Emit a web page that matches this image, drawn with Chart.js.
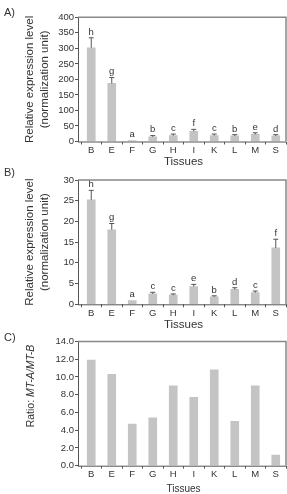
<!DOCTYPE html>
<html>
<head>
<meta charset="utf-8">
<script src="https://cdn.jsdelivr.net/npm/chart.js@4.4.1/dist/chart.umd.min.js"></script>
<style>
html, body { margin: 0; padding: 0; background: #fff; width: 287px; height: 494px; overflow: hidden; }
.panel { position: absolute; left: 0; width: 287px; }
</style>
</head>
<body>
<div class="panel" style="top:0;height:170px"><canvas id="chartA" width="287" height="170"></canvas></div>
<div class="panel" style="top:166px;height:166px"><canvas id="chartB" width="287" height="166"></canvas></div>
<div class="panel" style="top:332px;height:166px"><canvas id="chartC" width="287" height="166"></canvas></div>
<script>
// data
const tissues = ['B', 'E', 'F', 'G', 'H', 'I', 'K', 'L', 'M', 'S'];

const exprA = [302, 187, 3, 15, 19, 33, 19, 18, 23, 18];
const errA = [32, 19, 0, 4, 5, 6, 5, 4, 5, 4];
const lettersA = ['h', 'g', 'a', 'b', 'c', 'f', 'c', 'b', 'e', 'd'];
const ticksA = { max: 400, step: 50 };

const exprB = [25.2, 18.0, 0.9, 2.5, 2.2, 4.3, 1.8, 3.6, 2.8, 13.6];
const errB = [2.3, 1.5, 0, 0.4, 0.3, 0.5, 0.25, 0.4, 0.4, 2.1];
const lettersB = ['h', 'g', 'a', 'c', 'c', 'e', 'b', 'd', 'c', 'f'];
const ticksB = { max: 30, step: 5 };

const ratioC = [11.9, 10.3, 4.7, 5.4, 9.0, 7.7, 10.8, 5.0, 9.0, 1.2];
const ticksC = { max: 14, step: 2 };

const FONT = "'Liberation Sans', Arial, sans-serif";
const INK = '#333';
const AXIS = '#555';
const BAR = '#c4c4c4';

// box round the plot (y axis line itself comes from the scale)
const framePlugin = {
    id: 'frame',
    afterDraw(chart) {
        const { ctx, chartArea, scales } = chart;
        const left = scales.y.right;
        ctx.save();
        ctx.strokeStyle = AXIS;
        ctx.lineWidth = 1;
        ctx.beginPath();
        ctx.moveTo(left, chartArea.bottom + 0.5);
        ctx.lineTo(chartArea.right, chartArea.bottom + 0.5);
        ctx.stroke();
        ctx.strokeStyle = '#888';
        ctx.lineWidth = 1.5;
        ctx.beginPath();
        ctx.moveTo(left, chartArea.top);
        ctx.lineTo(chartArea.right, chartArea.top);
        ctx.lineTo(chartArea.right, chartArea.bottom);
        ctx.stroke();
        ctx.restore();
    }
};

// upper error bars + significance letters
const errorPlugin = {
    id: 'errLetters',
    afterDatasetsDraw(chart, args, opts) {
        if (!opts.err) return;
        const { ctx, scales } = chart;
        const meta = chart.getDatasetMeta(0);
        const values = chart.data.datasets[0].data;
        ctx.save();
        ctx.strokeStyle = AXIS;
        ctx.lineWidth = 1;
        ctx.fillStyle = INK;
        ctx.font = '9.5px ' + FONT;
        ctx.textAlign = 'center';
        ctx.textBaseline = 'bottom';
        meta.data.forEach((bar, i) => {
            const top = scales.y.getPixelForValue(values[i] + opts.err[i]);
            if (opts.err[i] > 0) {
                ctx.beginPath();
                ctx.moveTo(bar.x, bar.y);
                ctx.lineTo(bar.x, top);
                ctx.moveTo(bar.x - 2.5, top);
                ctx.lineTo(bar.x + 2.5, top);
                ctx.stroke();
            }
            ctx.fillText(opts.letters[i], bar.x, top - 1);
        });
        ctx.restore();
    }
};

const tagPlugin = {
    id: 'tag',
    afterDraw(chart, args, opts) {
        const ctx = chart.ctx;
        ctx.save();
        ctx.fillStyle = INK;
        ctx.font = '11px ' + FONT;
        ctx.textBaseline = 'middle';
        ctx.fillText(opts.text, 4, opts.y);
        ctx.restore();
    }
};

// y title for panel C, part of it in italics
const ratioTitlePlugin = {
    id: 'ratioTitle',
    afterDraw(chart, args, opts) {
        if (!opts.parts) return;
        const ctx = chart.ctx;
        ctx.save();
        ctx.translate(opts.x, opts.y);
        ctx.rotate(-Math.PI / 2);
        ctx.fillStyle = INK;
        ctx.textBaseline = 'middle';
        let total = 0;
        opts.parts.forEach(p => { ctx.font = p.font; total += ctx.measureText(p.text).width; });
        let x = -total / 2;
        opts.parts.forEach(p => {
            ctx.font = p.font;
            ctx.fillText(p.text, x, 0);
            x += ctx.measureText(p.text).width;
        });
        ctx.restore();
    }
};

function makeChart(id, cfg) {
    const ctx = document.getElementById(id).getContext('2d');
    return new Chart(ctx, {
        type: 'bar',
        data: {
            labels: tissues,
            datasets: [{ data: cfg.values, backgroundColor: BAR, borderWidth: 0, barThickness: 8 }]
        },
        options: {
            responsive: false,
            animation: false,
            layout: { padding: { top: cfg.padTop, right: 1, bottom: 0, left: 0 } },
            plugins: {
                legend: { display: false },
                tooltip: { enabled: false },
                errLetters: { err: cfg.err, letters: cfg.letters },
                tag: { text: cfg.tag, y: cfg.tagY },
                ratioTitle: cfg.ratioTitle || {}
            },
            scales: {
                x: {
                    offset: true,
                    grid: { offset: true, drawOnChartArea: false, tickLength: 3, color: AXIS },
                    border: { display: false },
                    ticks: { color: INK, padding: 0, font: { family: FONT, size: 9.5 } },
                    title: {
                        display: true, text: 'Tissues', color: INK,
                        font: { family: FONT, size: cfg.titleSize },
                        padding: { top: 0, bottom: cfg.titlePad }
                    },
                    afterFit: s => { s.height = cfg.xHeight; }
                },
                y: {
                    weight: 2,
                    min: 0, max: cfg.ticks.max,
                    grid: { drawOnChartArea: false, tickLength: 3, color: AXIS },
                    border: { color: AXIS },
                    ticks: {
                        stepSize: cfg.ticks.step, color: INK, padding: 1,
                        font: { family: FONT, size: 9.5 },
                        callback: cfg.tickFmt || (v => v)
                    },
                    title: cfg.yTitle ? {
                        display: true, text: cfg.yTitle, color: INK,
                        font: { family: FONT, size: 11.5, lineHeight: 1.35 },
                        padding: { top: 22, bottom: 0 }
                    } : { display: false },
                    afterFit: s => { s.width = 78; }
                },
                gap: {
                    type: 'linear', position: 'left', display: true, weight: 1,
                    grid: { display: false }, border: { display: false },
                    ticks: { display: false },
                    afterFit: s => { s.width = 3; }
                }
            }
        },
        plugins: [framePlugin, errorPlugin, tagPlugin, ratioTitlePlugin]
    });
}

makeChart('chartA', {
    values: exprA, err: errA, letters: lettersA, ticks: ticksA,
    tag: 'A)', tagY: 13, padTop: 17.3, xHeight: 28.5, titleSize: 11.5, titlePad: 1,
    yTitle: ['Relative expression level', '(normalization unit)']
});

makeChart('chartB', {
    values: exprB, err: errB, letters: lettersB, ticks: ticksB,
    tag: 'B)', tagY: 7.3, padTop: 14, xHeight: 27.7, titleSize: 11.5, titlePad: 0,
    yTitle: ['Relative expression level', '(normalization unit)']
});

makeChart('chartC', {
    values: ratioC, ticks: ticksC,
    tag: 'C)', tagY: 6.3, padTop: 9.5, xHeight: 32.3, titleSize: 10, titlePad: 3,
    tickFmt: v => v.toFixed(1),
    ratioTitle: {
        x: 31, y: 54,
        parts: [
            { text: 'Ratio: ', font: '10.5px ' + FONT },
            { text: 'MT-A/MT-B', font: 'italic 10.5px ' + FONT }
        ]
    }
});
</script>
</body>
</html>
